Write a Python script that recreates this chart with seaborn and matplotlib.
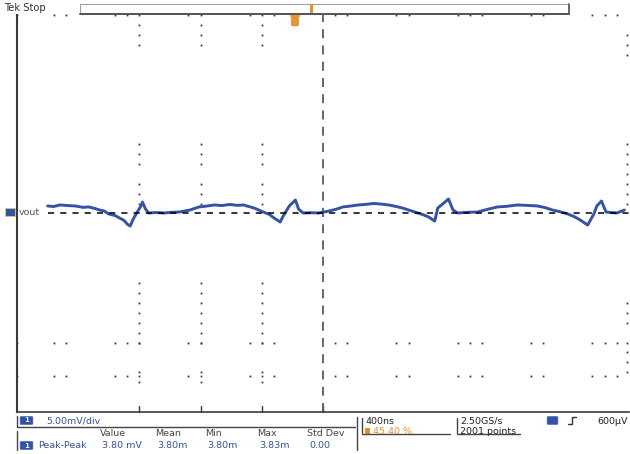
import numpy as np
import pandas as pd
import matplotlib
matplotlib.use("Agg")
import matplotlib.pyplot as plt
import seaborn as sns
from matplotlib.patches import FancyBboxPatch, Rectangle

sns.set_theme(style="white")
plt.rcParams['font.family'] = ['DejaVu Sans']

# --- data ---
# time in us (0 = trigger), vout in mV relative to the channel marker
time_us = [-1.80, -1.76, -1.72, -1.67, -1.62, -1.57, -1.53, -1.49, -1.46, -1.43,
           -1.40, -1.36, -1.33, -1.30, -1.28, -1.26, -1.24, -1.21, -1.19, -1.18,
           -1.16, -1.14, -1.09, -1.04, -0.99, -0.94, -0.87, -0.81, -0.76, -0.71,
           -0.66, -0.61, -0.56, -0.52, -0.45, -0.39, -0.35, -0.32, -0.28, -0.26,
           -0.22, -0.20, -0.18, -0.16, -0.13, -0.08, -0.03, 0.04, 0.09, 0.13,
           0.18, 0.23, 0.28, 0.33, 0.38, 0.43, 0.48, 0.52, 0.57, 0.62,
           0.66, 0.69, 0.73, 0.75, 0.79, 0.82, 0.85, 0.88, 0.94, 1.01,
           1.07, 1.14, 1.20, 1.27, 1.33, 1.40, 1.45, 1.50, 1.55, 1.60,
           1.64, 1.67, 1.70, 1.73, 1.77, 1.79, 1.82, 1.85, 1.88, 1.92, 1.97]
vout_mv = [0.76, 0.70, 0.86, 0.80, 0.76, 0.62, 0.66, 0.50, 0.35, 0.25,
           -0.05, -0.20, -0.45, -0.70, -1.06, -1.26, -0.55, 0.25, 0.76, 1.16,
           0.45, 0.05, 0.10, 0.05, 0.12, 0.15, 0.35, 0.66, 0.75, 0.86,
           0.80, 0.91, 0.82, 0.86, 0.55, 0.15, -0.10, -0.45, -0.86, -0.25,
           0.76, 1.06, 1.36, 0.45, 0.05, 0.08, 0.05, 0.25, 0.45, 0.66,
           0.75, 0.86, 0.92, 1.01, 0.95, 0.86, 0.70, 0.55, 0.30, 0.05,
           -0.15, -0.35, -0.76, 0.55, 1.06, 1.46, 0.35, 0.05, 0.12, 0.15,
           0.40, 0.66, 0.72, 0.86, 0.82, 0.76, 0.60, 0.35, 0.18, -0.05,
           -0.30, -0.55, -0.85, -1.16, -0.05, 0.76, 1.26, 0.15, 0.10, 0.05, 0.35]

volts_per_div = 5.0   # mV/div
time_per_div = 0.4    # us/div
x_divs, y_divs = 10, 8

meas_headers = ["Value", "Mean", "Min", "Max", "Std Dev"]
meas_values = ["3.80 mV", "3.80m", "3.80m", "3.83m", "0.00"]
meas_name = "Peak-Peak"
scale_label = "5.00mV/div"
horiz_label = "400ns"
trig_pos_label = "45.40 %"
rate_label = "2.50GS/s"
points_label = "2001 points"
trig_level_label = "600\u00b5V"

df = pd.DataFrame({"t": time_us, "v": vout_mv})

W, H = 630, 454
left_px, right_px, top_px, bottom_px = 17, 629, 15, 412
blue = "#3553a6"
grid_c = "#3c3c3c"
border_c = "#3a3a3a"

fig = plt.figure(figsize=(W / 100, H / 100), dpi=100)
fig.patch.set_facecolor("white")
ax = fig.add_axes([left_px / W, 1 - bottom_px / H,
                   (right_px - left_px) / W, (bottom_px - top_px) / H])
half_t = x_divs / 2 * time_per_div
half_v = y_divs / 2 * volts_per_div
ax.set_xlim(-half_t, half_t)
ax.set_ylim(-half_v, half_v)
ax.set_xticks([])
ax.set_yticks([])
ax.set_facecolor("white")
for s in ["top", "right"]:
    ax.spines[s].set_visible(False)
ax.spines["left"].set_color(border_c)
ax.spines["left"].set_linewidth(1.5)
ax.spines["bottom"].set_color(border_c)
ax.spines["bottom"].set_linewidth(1.2)

# graticule: the screenshot is downsampled, so only some of the minor dots survive
minor_t = time_per_div / 5
minor_v = volts_per_div / 5
row_keep = [0, 3, 4, 8, 9, 10, 14, 15, 19, 20, 21, 26, 27, 31, 32, 36, 37, 38,
            42, 43, 47, 48, 49]
col_keep = [1, 2, 3, 13, 14, 15, 17, 18, 19, 27, 28, 29, 30, 31, 32, 33, 36, 37]
edge_keep = [2, 3, 4, 13, 14, 15, 16, 17, 18, 19, 29, 30, 31, 33, 34, 35, 36]
dot = dict(ls="none", marker="s", ms=1.3, mew=0, color=grid_c, clip_on=False, zorder=1)
row_x = -half_t + np.array(row_keep) * minor_t
for yv in [half_v, -13.0, -16.4]:
    ax.plot(row_x, np.full(len(row_x), yv), **dot)
for d in [-3, -2, -1]:
    cy = half_v - np.array(col_keep) * minor_v
    ax.plot(np.full(len(cy), d * time_per_div), cy, **dot)
cy = half_v - np.array(edge_keep) * minor_v
ax.plot(np.full(len(cy), half_t - 0.01), cy, **dot)
# ticks on the bottom border
for d in [-3, -2, -1, 0]:
    ax.plot([d * time_per_div] * 2, [-half_v, -half_v + 0.12 * volts_per_div],
            color=border_c, lw=1.0, clip_on=False)

# trigger position (center) dashed line
ax.axvline(0, color="#5a5a5a", ls=(0, (5, 4)), lw=1.3, zorder=2)

# trace
sns.lineplot(data=df, x="t", y="v", ax=ax, color=blue, linewidth=2.1,
             zorder=3, estimator=None, sort=False)
# reference dashed line
ax.plot([time_us[0], half_t], [0, 0], color="black", ls=(0, (4, 4)),
        lw=1.1, zorder=4)
ax.set_xlabel("")
ax.set_ylabel("")

# --- overlay for the scope UI (pixel coordinates) ---
ov = fig.add_axes([0, 0, 1, 1])
ov.set_xlim(0, W)
ov.set_ylim(H, 0)
ov.axis("off")
ov.patch.set_visible(False)
fs = 6.8

ov.text(4, 8, "Tek Stop", fontsize=7.2, color="#333333", va="center", ha="left")
# record view bar
ov.add_patch(Rectangle((80, 4), 489, 10, fill=False, ec="#9a9a9a", lw=0.7))
ov.plot([80, 569], [14, 14], color="#555555", lw=1.4)
ov.plot([569, 569], [4, 14], color="#555555", lw=1.2)
ov.add_patch(Rectangle((310, 4), 3, 9, color="#e8912c", lw=0))
# trigger position marker
ov.add_patch(FancyBboxPatch((292.5, 18), 5, 7, boxstyle="round,pad=0.8",
                            fc="#eb9532", ec="#d07a18", lw=0.5))
ov.plot([291, 299], [15.5, 15.5], color="#eb9532", lw=1.5)

# channel marker
ov.add_patch(FancyBboxPatch((6, 209), 9, 7, boxstyle="round,pad=0.6",
                            fc=blue, ec="#d7cf7a", lw=0.6))
ov.text(19, 212.5, "vout", fontsize=fs, color="#555555", va="center", ha="left")

# channel scale tab
ov.plot([17, 355], [427, 427], color="#444444", lw=1.0)
ov.plot([17, 17], [416, 427], color="#444444", lw=1.0)
ov.add_patch(FancyBboxPatch((21, 417.5), 11, 6, boxstyle="round,pad=0.8",
                            fc=blue, ec=blue, lw=0.5))
ov.text(26.5, 420.5, "1", fontsize=5, color="white", ha="center", va="center",
        fontweight="bold")
ov.text(46, 421, scale_label, fontsize=fs, color=blue, va="center", ha="left")
ov.plot([357, 357], [417, 450], color="#444444", lw=1.0)

# measurement table
ov.plot([17, 17], [431, 450], color="#444444", lw=1.0)
hx = [100, 155, 205, 257, 307]
for x, h, v in zip(hx, meas_headers, meas_values):
    ov.text(x, 434, h, fontsize=fs, color="#444444", va="center", ha="left")
    ov.text(x + 2, 446, v, fontsize=fs, color=blue, va="center", ha="left")
ov.add_patch(FancyBboxPatch((21, 442.5), 11, 6, boxstyle="round,pad=0.8",
                            fc=blue, ec=blue, lw=0.5))
ov.text(26.5, 445.5, "1", fontsize=5, color="white", ha="center", va="center",
        fontweight="bold")
ov.text(38, 446, meas_name, fontsize=fs, color=blue, va="center", ha="left")

# horizontal box
ov.plot([362, 362], [418, 433], color="#444444", lw=1.0)
ov.plot([362, 450], [433.5, 433.5], color="#444444", lw=1.0)
ov.text(366, 421, horiz_label, fontsize=fs, color="#222222", va="center", ha="left")
ov.add_patch(Rectangle((365, 427.5), 5, 6, color="#e8912c", lw=0))
ov.text(373, 431, trig_pos_label, fontsize=fs, color="#e8912c", va="center", ha="left")

# acquisition box
ov.plot([457, 457], [418, 433], color="#444444", lw=1.0)
ov.plot([457, 520], [433.5, 433.5], color="#444444", lw=1.0)
ov.text(460, 421, rate_label, fontsize=fs, color="#222222", va="center", ha="left")
ov.text(460, 431, points_label, fontsize=fs, color="#222222", va="center", ha="left")

# trigger box
ov.add_patch(FancyBboxPatch((548, 417.5), 9, 6, boxstyle="round,pad=0.8",
                            fc=blue, ec=blue, lw=0.5))
ov.plot([568, 572, 572, 576], [424, 424, 417, 417], color="#333333", lw=1.0)
ov.text(628, 421, trig_level_label, fontsize=fs, color="#222222", va="center", ha="right")

fig.savefig("out.png", dpi=100)
